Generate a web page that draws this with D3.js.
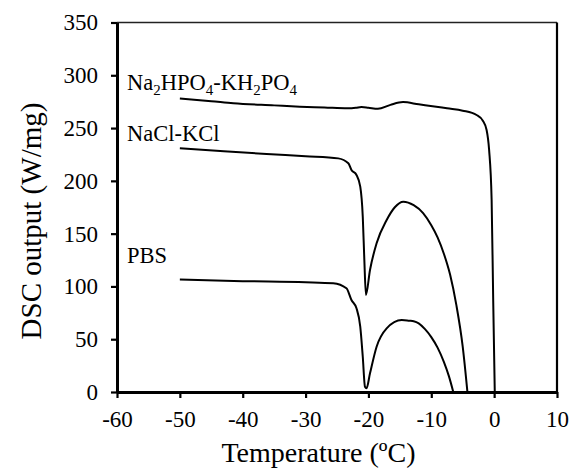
<!DOCTYPE html>
<html>
<head>
<meta charset="utf-8">
<script src="https://cdn.jsdelivr.net/npm/d3@7"></script>
<style>
  body { margin: 0; background: #fff; }
  svg { font-family: "Liberation Serif", "Times New Roman", serif; }
</style>
</head>
<body>
<div id="chart"></div>
<script>
// Axis ticks
const xTicks = [-60, -50, -40, -30, -20, -10, 0, 10];
const yTicks = [0, 50, 100, 150, 200, 250, 300, 350];

// Na2HPO4-KH2PO4 curve
const naHpoT = [-50, -45, -41.5, -35, -30.9, -27, -23.3, -22, -21.1, -20, -18.5, -16.5, -14.5, -12, -9.5, -7.5, -5, -2.8, -1.8, -1.2, -0.8, -0.4, -0.15, 0.1];
const naHpoV = [278, 275.5, 273.5, 271.5, 270.3, 269.5, 268.7, 269.2, 270, 269.3, 268.2, 272, 274.6, 272.5, 270.5, 268.7, 266.5, 262.4, 257, 248.2, 229.3, 182, 87, 0];

// NaCl-KCl curve
const naclT = [-50, -43, -36.2, -30, -24.8, -23.2, -22.7, -21.9, -21.3, -20.9, -20.65, -20.4, -19.75, -18.7, -17.1, -15.8, -14.45, -12.8, -11.3, -10, -9, -8, -7, -6, -5, -4.25];
const naclV = [230.8, 228, 225.4, 223.3, 221.3, 216.6, 210.3, 205.6, 194.5, 166, 125, 91.9, 115.6, 140.9, 162.9, 175, 180.3, 177, 169.5, 158, 146.5, 131, 111, 82, 43, 0];

// PBS curve
const pbsT = [-50, -40, -30, -25.6, -23.5, -22.7, -21.9, -21.3, -20.9, -20.55, -20.3, -19.75, -18.7, -17.1, -14.7, -13.5, -12.8, -12, -11, -10, -9, -8, -7.2, -6.5];
const pbsV = [106.5, 105, 104, 103, 98.2, 87.1, 79.3, 61.9, 33.4, 5, 3.5, 17.7, 42.9, 60.3, 68.2, 67.5, 67, 65, 59.5, 52, 42, 28.5, 15, 0];

const seriesNames = ["Na2HPO4-KH2PO4", "NaCl-KCl", "PBS"];

const W = 578, H = 474;
const margin = {top: 22.5, right: 21, bottom: 82, left: 117};
const width = W - margin.left - margin.right,
      height = H - margin.top - margin.bottom;

const svg = d3.select("#chart").append("svg")
    .attr("width", W)
    .attr("height", H)
  .append("g")
    .attr("transform", `translate(${margin.left},${margin.top})`);

const x = d3.scaleLinear().domain([-60, 10]).range([0, width]);
const y = d3.scaleLinear().domain([0, 350]).range([height, 0]);

// frame: thin top, thick left/bottom/right
svg.append("line").attr("x1", 0).attr("x2", width).attr("y1", 0).attr("y2", 0)
    .attr("stroke", "#222").attr("stroke-width", 1.4);
svg.append("line").attr("x1", width).attr("x2", width).attr("y1", 0).attr("y2", height)
    .attr("stroke", "#000").attr("stroke-width", 2.2);

const yAxis = svg.append("g")
    .call(d3.axisLeft(y).tickValues(yTicks).tickSize(6).tickSizeOuter(0).tickPadding(13));
const xAxis = svg.append("g")
    .attr("transform", `translate(0,${height})`)
    .call(d3.axisBottom(x).tickValues(xTicks).tickSize(6).tickSizeOuter(0).tickPadding(13)
      .tickFormat(d => d));

[yAxis, xAxis].forEach(a => {
  a.select(".domain").attr("stroke-width", 3);
  a.selectAll(".tick line").attr("stroke-width", 2.2);
  a.selectAll("text").attr("font-size", 23).attr("fill", "#000")
    .attr("font-family", "Liberation Serif, serif");
});

const line = d3.line()
    .x(d => x(d[0]))
    .y(d => y(d[1]))
    .curve(d3.curveMonotoneX);

[[naHpoT, naHpoV], [naclT, naclV], [pbsT, pbsV]].forEach(([t, v]) => {
  svg.append("path")
      .datum(t.map((d, i) => [d, v[i]]))
      .attr("fill", "none")
      .attr("stroke", "#000")
      .attr("stroke-width", 2)
      .attr("stroke-linejoin", "round")
      .attr("d", line);
});

// series labels
const lab1 = svg.append("text").attr("x", 10).attr("y", 67).attr("font-size", 22.5);
lab1.append("tspan").text("Na");
lab1.append("tspan").attr("font-size", 15).attr("dy", 5).text("2");
lab1.append("tspan").attr("dy", -5).text("HPO");
lab1.append("tspan").attr("font-size", 15).attr("dy", 5).text("4");
lab1.append("tspan").attr("dy", -5).text("-KH");
lab1.append("tspan").attr("font-size", 15).attr("dy", 5).text("2");
lab1.append("tspan").attr("dy", -5).text("PO");
lab1.append("tspan").attr("font-size", 15).attr("dy", 5).text("4");

svg.append("text").attr("x", 10).attr("y", 118).attr("font-size", 22.5).text(seriesNames[1]);
svg.append("text").attr("x", 10).attr("y", 240).attr("font-size", 22.5).text(seriesNames[2]);

// axis titles
svg.append("text")
    .attr("x", 201.5)
    .attr("y", height + 70)
    .attr("text-anchor", "middle")
    .attr("font-size", 28)
    .text("Temperature (ºC)");

svg.append("text")
    .attr("transform", "rotate(-90)")
    .attr("x", -198.5)
    .attr("y", -margin.left + 41)
    .attr("text-anchor", "middle")
    .attr("font-size", 29)
    .text("DSC output (W/mg)");
</script>
</body>
</html>
